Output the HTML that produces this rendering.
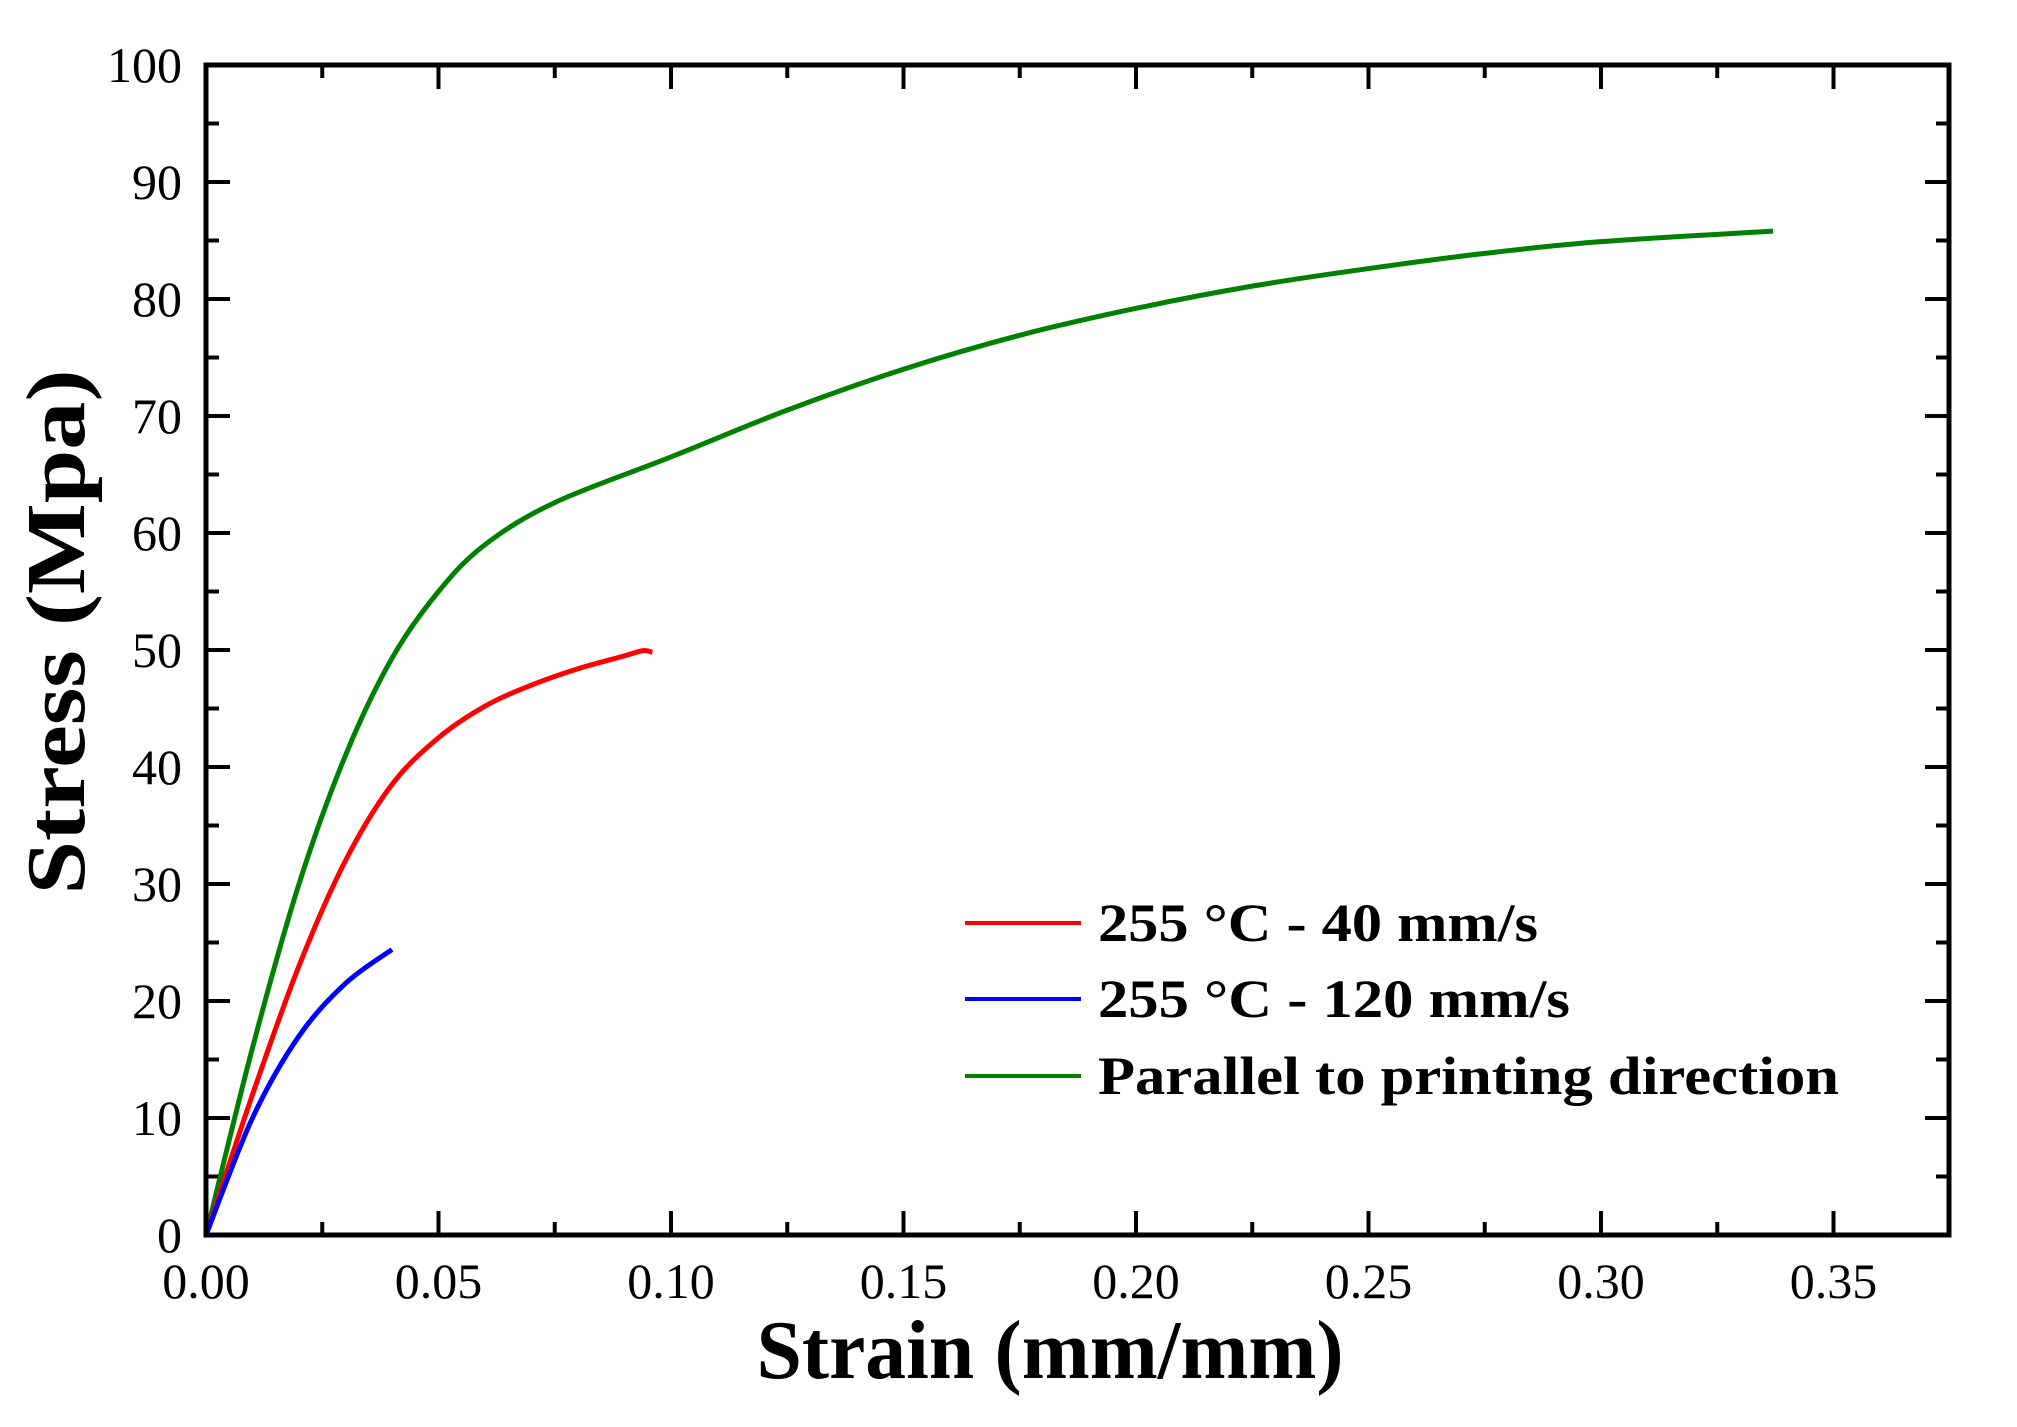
<!DOCTYPE html>
<html><head><meta charset="utf-8"><style>html,body{margin:0;padding:0;background:#fff}svg{display:block}</style></head>
<body>
<svg id="s" width="2017" height="1427" viewBox="0 0 2017 1427" xmlns="http://www.w3.org/2000/svg" font-family="'Liberation Serif', serif">
<g id="ticks" stroke="#000" stroke-width="4"></g>
<g id="curves" fill="none" stroke-width="5" stroke-linejoin="round"></g>
<rect x="206" y="65" width="1743" height="1170" fill="none" stroke="#000" stroke-width="5"/>
<g id="labels" font-size="50" fill="#000"></g>
<text x="1050" y="1378" font-size="84" font-weight="bold" text-anchor="middle" textLength="587" lengthAdjust="spacingAndGlyphs">Strain (mm/mm)</text>
<text transform="translate(84,632) rotate(-90)" font-size="84" font-weight="bold" text-anchor="middle" textLength="525" lengthAdjust="spacingAndGlyphs">Stress (Mpa)</text>
<g stroke-width="4">
<line x1="965" y1="923" x2="1081" y2="923" stroke="#ff0000"/>
<line x1="965" y1="999" x2="1081" y2="999" stroke="#0000ff"/>
<line x1="965" y1="1076" x2="1081" y2="1076" stroke="#008000"/>
</g>
<g font-size="54" font-weight="bold">
<text x="1098" y="941" textLength="440" lengthAdjust="spacingAndGlyphs">255 °C - 40 mm/s</text>
<text x="1098" y="1017" textLength="472" lengthAdjust="spacingAndGlyphs">255 °C - 120 mm/s</text>
<text x="1098" y="1094" textLength="741" lengthAdjust="spacingAndGlyphs">Parallel to printing direction</text>
</g>
</svg>
<script>
const NS="http://www.w3.org/2000/svg";
const X=x=>206+x*4650, Y=y=>1235-y*11.7;
function el(p,t,a,txt){const e=document.createElementNS(NS,t);for(const k in a)e.setAttribute(k,a[k]);if(txt!==undefined)e.textContent=txt;p.appendChild(e);return e;}
const tk=document.getElementById('ticks'),lb=document.getElementById('labels');
for(let i=0;i<=14;i++){const x=X(i*0.025),L=i%2?13:24;
 el(tk,'line',{x1:x,y1:1235,x2:x,y2:1235-L});el(tk,'line',{x1:x,y1:65,x2:x,y2:65+L});
 if(i%2==0)el(lb,'text',{x:x,y:1298,'text-anchor':'middle'},(i*0.025).toFixed(2));}
for(let i=0;i<=20;i++){const y=Y(i*5),L=i%2?13:24;
 el(tk,'line',{x1:206,y1:y,x2:206+L,y2:y});el(tk,'line',{x1:1949,y1:y,x2:1949-L,y2:y});
 if(i%2==0)el(lb,'text',{x:182,y:y+17,'text-anchor':'end'},String(i*5));}
function path(pts){const P=pts.map(p=>[X(p[0]),Y(p[1])]);let d='M'+P[0];
 for(let i=0;i<P.length-1;i++){const p0=P[i-1]||P[i],p1=P[i],p2=P[i+1],p3=P[i+2]||P[i+1];
 const c1=[p1[0]+(p2[0]-p0[0])/6,p1[1]+(p2[1]-p0[1])/6],c2=[p2[0]-(p3[0]-p1[0])/6,p2[1]-(p3[1]-p1[1])/6];
 d+=' C'+c1+' '+c2+' '+p2;}return d;}
const cv=document.getElementById('curves');
el(cv,'path',{stroke:'#008000',d:path([[0,0],[0.01,16],[0.02,30],[0.03,41],[0.04,49.3],[0.05,55],[0.06,59],[0.075,62.6],[0.1,66.5],[0.125,70.5],[0.15,74],[0.175,76.9],[0.2,79.2],[0.225,81.1],[0.25,82.6],[0.275,83.9],[0.3,84.9],[0.337,85.8]])});
el(cv,'path',{stroke:'#ff0000',d:path([[0,0],[0.01,12],[0.02,23],[0.03,32],[0.04,38.5],[0.05,42.5],[0.06,45.2],[0.07,47],[0.08,48.4],[0.09,49.5],[0.094,49.95],[0.096,49.8]])});
el(cv,'path',{stroke:'#0000ff',d:path([[0,0],[0.01,10],[0.02,17],[0.03,21.5],[0.04,24.4]])});
</script>
</body></html>
